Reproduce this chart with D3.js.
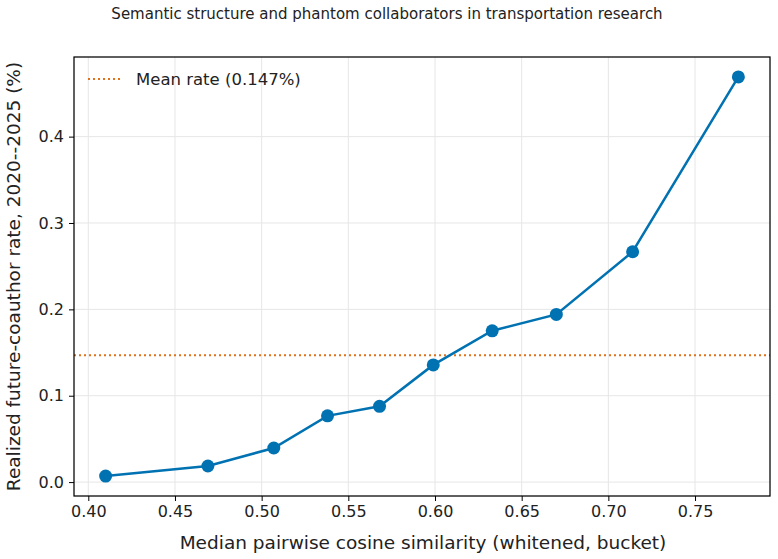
<!DOCTYPE html>
<html><head><meta charset="utf-8">
<script src="https://cdn.jsdelivr.net/npm/d3@7"></script>
<style>body{margin:0;background:#fff;} text{font-family:"DejaVu Sans",sans-serif;}</style>
</head><body>
<svg id="c" width="778" height="559"></svg>
<script>
const similarity = [0.410, 0.469, 0.507, 0.538, 0.568, 0.599, 0.633, 0.670, 0.714, 0.775];
const rate = [0.007, 0.0186, 0.0395, 0.0767, 0.0877, 0.1357, 0.1752, 0.1941, 0.2667, 0.4691];
const meanRate = 0.147;
const xTicks = [0.40, 0.45, 0.50, 0.55, 0.60, 0.65, 0.70, 0.75];
const yTicks = [0.0, 0.1, 0.2, 0.3, 0.4];
const title = "Semantic structure and phantom collaborators in transportation research";
const xLabel = "Median pairwise cosine similarity (whitened, bucket)";
const yLabel = "Realized future-coauthor rate, 2020--2025 (%)";
const legendLabel = "Mean rate (0.147%)";

const svg = d3.select("#c");
const L = 74, R = 770, T = 57, B = 496;
const blue = "#0072B2", orange = "#E0701A";

const xr = d3.extent(similarity), yr = d3.extent(rate);
const xm = (xr[1]-xr[0])*0.05, ym = (yr[1]-yr[0])*0.05;
const x = d3.scaleLinear().domain([xr[0]-xm, xr[1]+xm]).range([L, R]);
const y = d3.scaleLinear().domain([yr[0]-ym, yr[1]+ym]).range([B, T]);

// grid
svg.append("g").selectAll("line").data(xTicks).join("line")
  .attr("x1", d=>x(d)).attr("x2", d=>x(d)).attr("y1", T).attr("y2", B)
  .attr("stroke", "#e6e6e6").attr("stroke-width", 1);
svg.append("g").selectAll("line").data(yTicks).join("line")
  .attr("y1", d=>y(d)).attr("y2", d=>y(d)).attr("x1", L).attr("x2", R)
  .attr("stroke", "#e6e6e6").attr("stroke-width", 1);

// mean line
svg.append("line").attr("x1", L).attr("x2", R).attr("y1", y(meanRate)).attr("y2", y(meanRate))
  .attr("stroke", orange).attr("stroke-width", 2).attr("stroke-dasharray", "2,3");

// data line
const pts = similarity.map((s,i)=>[s, rate[i]]);
svg.append("path").datum(pts)
  .attr("d", d3.line().x(d=>x(d[0])).y(d=>y(d[1])))
  .attr("fill", "none").attr("stroke", blue).attr("stroke-width", 2.5);
svg.append("g").selectAll("circle").data(pts).join("circle")
  .attr("cx", d=>x(d[0])).attr("cy", d=>y(d[1])).attr("r", 6.5).attr("fill", blue);

// axes
const xa = svg.append("g").attr("transform", `translate(0,${B})`)
  .call(d3.axisBottom(x).tickValues(xTicks).tickFormat(d3.format(".2f")).tickSize(5).tickPadding(5));
const ya = svg.append("g").attr("transform", `translate(${L},0)`)
  .call(d3.axisLeft(y).tickValues(yTicks).tickFormat(d3.format(".1f")).tickSize(5).tickPadding(5));
[xa, ya].forEach(a=>{
  a.select(".domain").remove();
  a.selectAll("line").attr("stroke", "#000").attr("stroke-width", 1);
  a.selectAll("text").attr("font-size", 16).attr("fill", "#222").attr("font-family", "DejaVu Sans");
});

// frame
svg.append("rect").attr("x", L).attr("y", T).attr("width", R-L).attr("height", B-T)
  .attr("fill", "none").attr("stroke", "#000").attr("stroke-width", 1.25);

// labels
svg.append("text").attr("x", 423).attr("y", 549).attr("text-anchor", "middle")
  .attr("font-size", 18.5).attr("fill", "#222").text(xLabel);
svg.append("text").attr("transform", `translate(20,${(T+B)/2}) rotate(-90)`).attr("text-anchor", "middle")
  .attr("font-size", 18.5).attr("fill", "#222").text(yLabel);
svg.append("text").attr("x", 387).attr("y", 19).attr("text-anchor", "middle")
  .attr("font-size", 15).attr("fill", "#222").text(title);

// legend
svg.append("line").attr("x1", 88).attr("x2", 120).attr("y1", 79).attr("y2", 79)
  .attr("stroke", orange).attr("stroke-width", 2).attr("stroke-dasharray", "2,3");
svg.append("text").attr("x", 136).attr("y", 85).attr("font-size", 16.5).attr("fill", "#222").text(legendLabel);
</script>
</body></html>
